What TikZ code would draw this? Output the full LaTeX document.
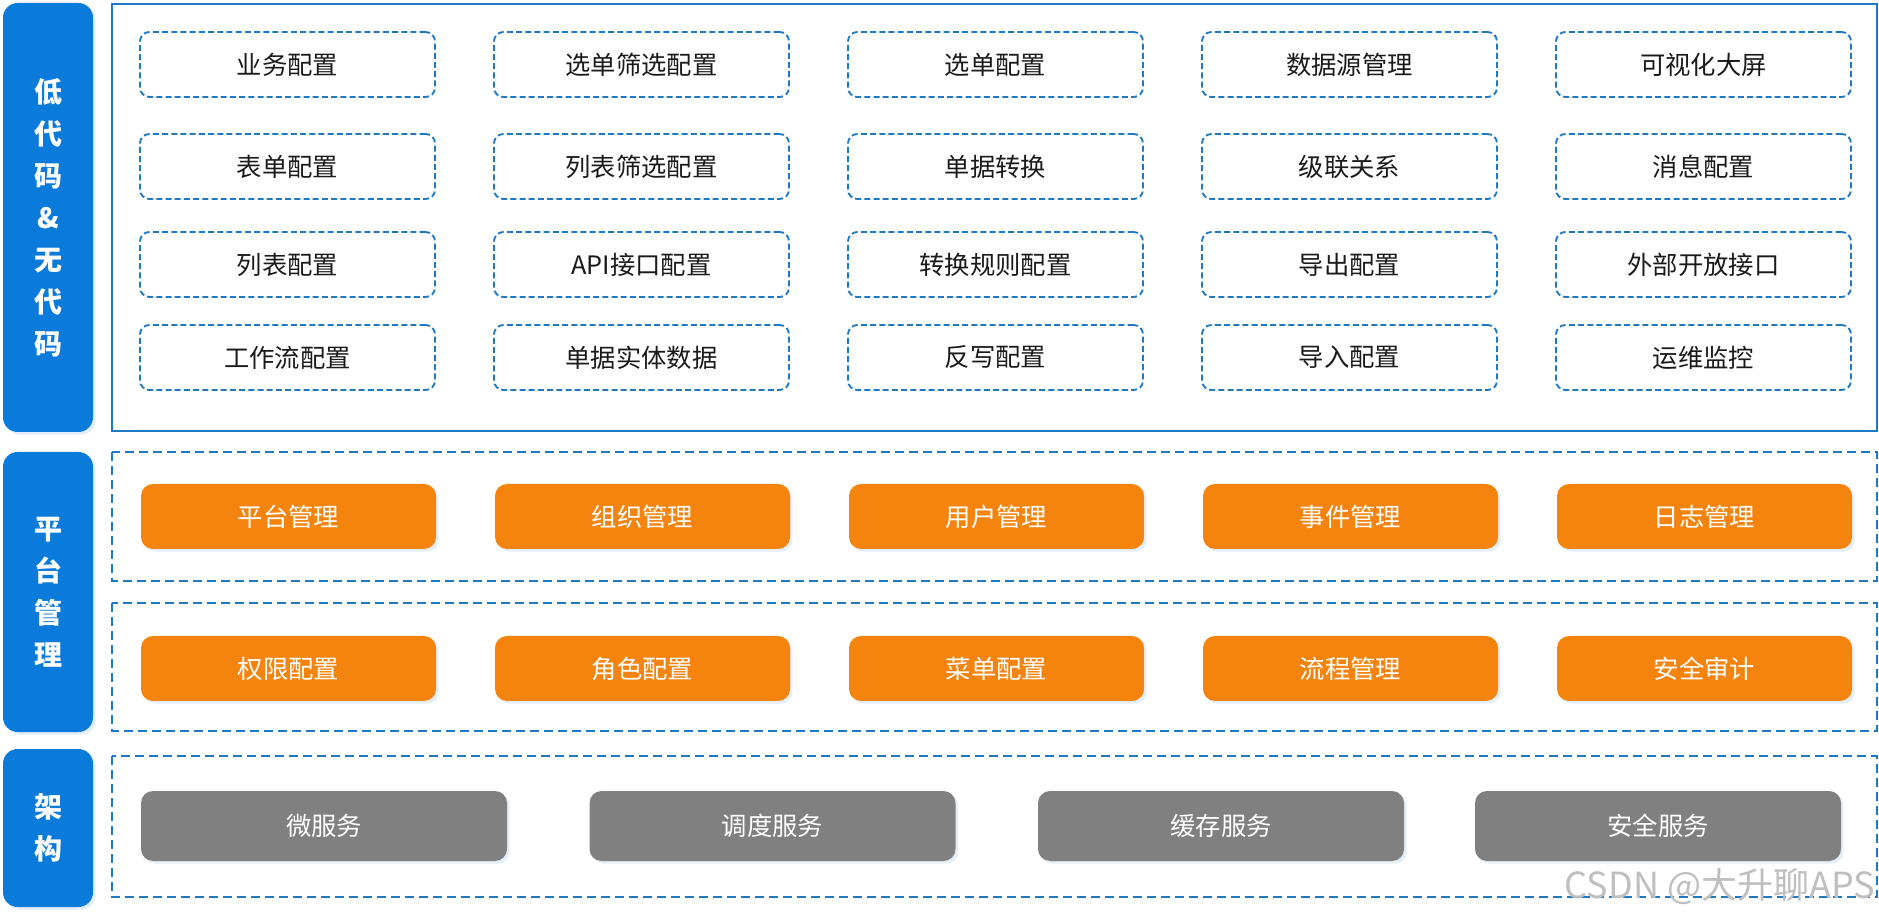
\documentclass[tikz,border=0pt]{standalone}
\usepackage{fontspec}
\setmainfont{Noto Sans CJK SC}
\usetikzlibrary{shadows}
\definecolor{lblue}{HTML}{0B7BDB}
\definecolor{dblue}{HTML}{1F78C4}
\definecolor{obox}{HTML}{F5840F}
\definecolor{gbox}{HTML}{808080}
\definecolor{txt}{HTML}{1A1A1A}
\begin{document}
\begin{tikzpicture}[x=0.75pt,y=-0.75pt,
  every node/.style={inner sep=0pt, outer sep=0pt},
  sidelabel/.style={fill=lblue, rounded corners=11pt, minimum width={90*0.75pt}, text=white, align=center,
     font=\bfseries\fontsize{21}{31.5}\selectfont, drop shadow={opacity=0.12, shadow xshift=2pt, shadow yshift=-2pt, fill=lblue}},
  dbox/.style={draw=dblue, line width=1.4pt, dash pattern=on 4.5pt off 2.4pt, rounded corners=7pt, fill=white,
     minimum width={295*0.75pt}, minimum height={65*0.75pt}, text=txt, font=\fontsize{19}{22}\selectfont},
  obx/.style={fill=obox, rounded corners=9pt, minimum width={295*0.75pt}, minimum height={65*0.75pt}, text=white,
     font=\fontsize{19}{22}\selectfont, drop shadow={opacity=0.12, shadow xshift=2pt, shadow yshift=-2pt, fill=dblue}},
  gbx/.style={fill=gbox, rounded corners=9pt, minimum width={366*0.75pt}, minimum height={70*0.75pt}, text=white,
     font=\fontsize{19}{22}\selectfont, drop shadow={opacity=0.12, shadow xshift=2pt, shadow yshift=-2pt, fill=dblue}},
  outerdash/.style={draw=dblue, line width=1.5pt, dash pattern=on 6.75pt off 3.75pt},
]
\useasboundingbox[fill=white] (0,0) rectangle (1879,919);

% side labels
\node[sidelabel, minimum height={429*0.75pt}] (L1) at (48,217.5) {低\\代\\码\\\&\\无\\代\\码};
\node[sidelabel, minimum height={280*0.75pt}] (L2) at (48,592) {平\\台\\管\\理};
\node[sidelabel, minimum height={158*0.75pt}] (L3) at (48,828) {架\\构};

% frames
\draw[dblue, line width=1.5pt] (112,4) rectangle (1877,431);
\draw[outerdash] (112,452) rectangle (1877,581);
\draw[outerdash] (112,603) rectangle (1877,731);
\draw[outerdash] (112,756) rectangle (1877,897);

% low-code grid
\node[dbox] (a11) at (287.5,64.5) {业务配置};
\node[dbox] (a12) at (641.5,64.5) {选单筛选配置};
\node[dbox] (a13) at (995.5,64.5) {选单配置};
\node[dbox] (a14) at (1349.5,64.5) {数据源管理};
\node[dbox] (a15) at (1703.5,64.5) {可视化大屏};

\node[dbox] (a21) at (287.5,166.5) {表单配置};
\node[dbox] (a22) at (641.5,166.5) {列表筛选配置};
\node[dbox] (a23) at (995.5,166.5) {单据转换};
\node[dbox] (a24) at (1349.5,166.5) {级联关系};
\node[dbox] (a25) at (1703.5,166.5) {消息配置};

\node[dbox] (a31) at (287.5,264.5) {列表配置};
\node[dbox] (a32) at (641.5,264.5) {API接口配置};
\node[dbox] (a33) at (995.5,264.5) {转换规则配置};
\node[dbox] (a34) at (1349.5,264.5) {导出配置};
\node[dbox] (a35) at (1703.5,264.5) {外部开放接口};

\node[dbox] (a41) at (287.5,357.5) {工作流配置};
\node[dbox] (a42) at (641.5,357.5) {单据实体数据};
\node[dbox] (a43) at (995.5,357.5) {反写配置};
\node[dbox] (a44) at (1349.5,357.5) {导入配置};
\node[dbox] (a45) at (1703.5,357.5) {运维监控};

% platform management
\node[obx] (p11) at (288.5,516.5) {平台管理};
\node[obx] (p12) at (642.5,516.5) {组织管理};
\node[obx] (p13) at (996.5,516.5) {用户管理};
\node[obx] (p14) at (1350.5,516.5) {事件管理};
\node[obx] (p15) at (1704.5,516.5) {日志管理};

\node[obx] (p21) at (288.5,668.5) {权限配置};
\node[obx] (p22) at (642.5,668.5) {角色配置};
\node[obx] (p23) at (996.5,668.5) {菜单配置};
\node[obx] (p24) at (1350.5,668.5) {流程管理};
\node[obx] (p25) at (1704.5,668.5) {安全审计};

% architecture
\node[gbx] (g1) at (324,826) {微服务};
\node[gbx] (g2) at (772.5,826) {调度服务};
\node[gbx] (g3) at (1221,826) {缓存服务};
\node[gbx] (g4) at (1658,826) {安全服务};

% watermark
\node[text=gray!50, font=\fontsize{27}{29}\selectfont, anchor=east] (wm) at (1875,887) {CSDN @大升聊APS};
\end{tikzpicture}
\end{document}
